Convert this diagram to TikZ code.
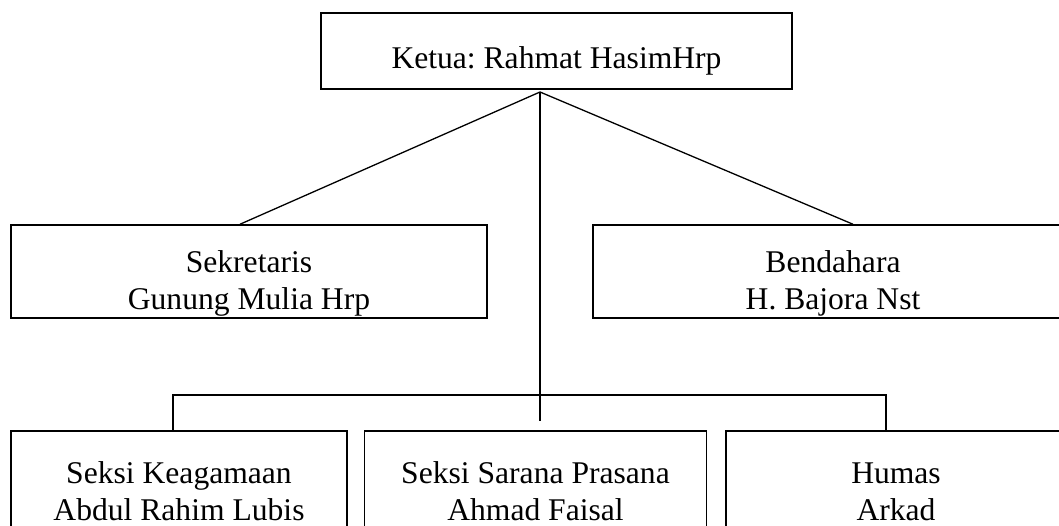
\documentclass[tikz,border=0pt]{standalone}
\usepackage{fontspec}
\setmainfont{Liberation Serif}
\frenchspacing
\usetikzlibrary{positioning}
\usetikzlibrary{calc}
\tikzstyle{jabatan} = [rectangle, draw=black, line width=1.5pt, inner sep=0pt,
align=center, minimum height=93pt, font=\fontsize{31.6}{37}\selectfont]
\tikzstyle{garis} = [-, line width=1.3pt]
\newcommand{\naik}{\rule{0pt}{45pt}}

\begin{document}
\begin{tikzpicture} [x=1pt, y=-1pt, node distance=16pt]
    \useasboundingbox (0,0) rectangle (1059,526);
    \node (ketua) [jabatan, minimum width=471pt, minimum height=76pt] at (556.5,51) {\rule{0pt}{41pt}Ketua: Rahmat HasimHrp};
    \node (sekretaris) [jabatan, minimum width=476pt] at (249,271.5) {\naik Sekretaris\\Gunung Mulia Hrp};
    \node (bendahara) [jabatan, minimum width=480pt] at (833,271.5) {\naik Bendahara\\H. Bajora Nst};
    \node (keagamaan) [jabatan, minimum width=336pt, minimum height=97pt] at (179,479.5) {\naik Seksi Keagamaan\\Abdul Rahim Lubis};
    \node (sarana) [jabatan, minimum width=342pt, minimum height=97pt, right=16pt of keagamaan] {\naik Seksi Sarana Prasana\\Ahmad Faisal};
    \node (humas) [jabatan, minimum width=340pt, minimum height=97pt, right=18pt of sarana] {\naik Humas\\Arkad};

    \coordinate (puncak) at (540,92);
    \coordinate (ujung) at (540,421);
    \coordinate (kiri) at (173,395);
    \coordinate (kanan) at (886,395);

    \draw[garis] (puncak) -- ($(sekretaris.north)+(-9,0)$);
    \draw[garis] (puncak) -- ($(bendahara.north)+(20,0)$);
    \draw[garis] (puncak) -- (ujung);
    \draw[garis] (keagamaan.north -| kiri) |- (kanan) -- (kanan |- humas.north);

\end{tikzpicture}
\end{document}
